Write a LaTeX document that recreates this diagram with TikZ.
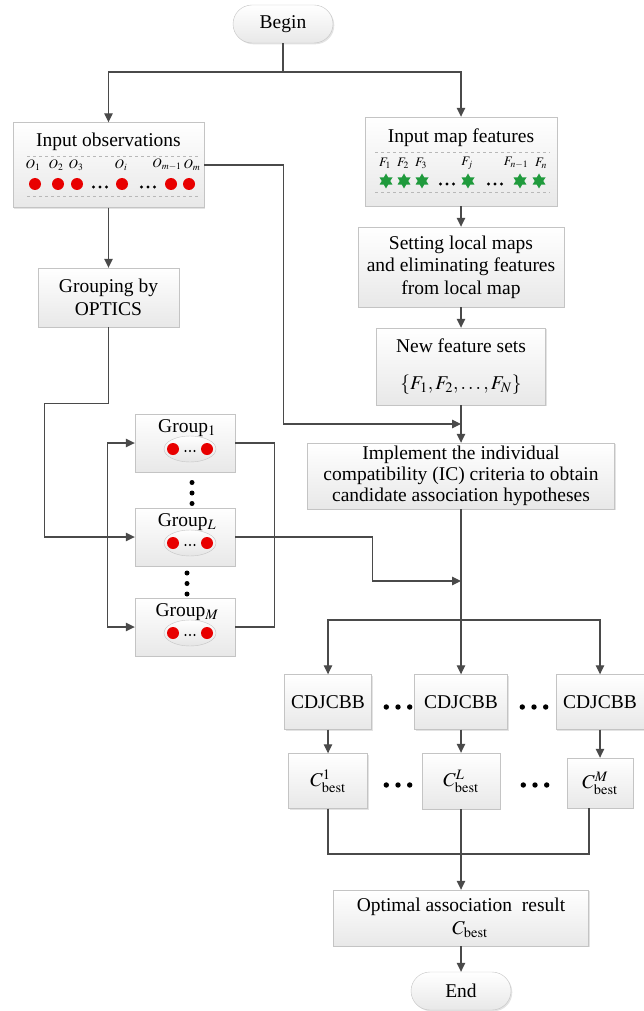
\documentclass[tikz,border=0pt]{standalone}
\usepackage{mathptmx}
\usepackage{fontspec}
\setmainfont{Liberation Serif}
\usetikzlibrary{arrows.meta,shapes.geometric,shadows,calc}
\definecolor{linegray}{HTML}{4A4A4A}
\definecolor{boxgray}{HTML}{C4C4C4}
\definecolor{obsred}{HTML}{E80000}
\definecolor{featgreen}{HTML}{1F9A3C}
\tikzset{box/.style={draw=boxgray,top color=white,bottom color=black!9,align=center,inner sep=0pt,
  drop shadow={shadow xshift=1.3pt,shadow yshift=-1.3pt,opacity=.22}},
 pill/.style={box,rounded corners=19pt,minimum width=100,minimum height=38},
 oval/.style={ellipse,draw=boxgray,top color=white,bottom color=black!10,minimum width=52,minimum height=26,inner sep=0pt},
 link/.style={draw=linegray,line width=1.1pt},
 linkarrow/.style={link,-{Triangle[length=9pt,width=8.5pt]}},
 featstar/.style={star,star points=6,star point ratio=1.75,fill=featgreen,minimum size=15,inner sep=0pt},
 sep/.style={draw=black!28,dashed,line width=.8pt},
 lbl/.style={font=\fontsize{13}{13}\selectfont,inner sep=0pt}}
\newcommand{\dotrow}[4]{% centre x, centre y, gap, radius
 \foreach \k in {-1,0,1}{\fill[black] (#1+\k*#3,#2) circle (#4);}}
\newcommand{\dotcol}[4]{% centre x, centre y, gap, radius
 \foreach \k in {-1,0,1}{\fill[black] (#1,#2+\k*#3) circle (#4);}}
\newcommand{\groupnode}[3]{% name, centre y, index
 \node[box,minimum width=100,minimum height=58] (#1) at (185,#2) {};
 \node (#1lbl) at (187,#2-15) {Group$_{#3}$};
 \node[oval] (#1oval) at (190,#2+6) {};
 \fill[obsred] (173,#2+6) circle (6);
 \fill[obsred] (207,#2+6) circle (6);
 \dotrow{190}{#2+8}{4.5}{1.2}
}

\begin{document}
\begin{tikzpicture}[x=1pt,y=-1pt,font=\fontsize{19.5}{22.4}\selectfont]
 \useasboundingbox (0,0) rectangle (643,1011);
 \node[pill] (begin) at (283,24) {Begin};
 \coordinate (split) at (283,72);

 % observations
 \node[box,minimum width=191,minimum height=85] (obs) at (108.5,165) {};
 \node (obstitle) at (108.5,142) {Input observations};
 \draw[sep] (27,156) -- (200,156);
 \draw[sep] (27,196) -- (200,196);
 \foreach \x/\t [count=\i] in {33/1,56/2,76/3,121/i,167/{m-1},192/m}{
  \node[lbl] (olbl\i) at (\x,165) {$O_{\t}$};
 }
 \foreach \x in {35,58,77,122,171,189}{\fill[obsred] (\x,184) circle (6);}
 \dotrow{100}{187}{6.5}{1.6}
 \dotrow{148}{187}{6.5}{1.6}

 % map features
 \node[box,minimum width=192,minimum height=89] (feat) at (461,161.5) {};
 \node (feattitle) at (461,138) {Input map features};
 \draw[sep] (375,152) -- (550,152);
 \draw[sep] (375,192) -- (550,192);
 \foreach \x/\t [count=\i] in {385/1,403/2,421/3,467/j,516/{n-1},541/n}{
  \node[lbl] (flbl\i) at (\x,163) {$F_{\t}$};
 }
 \foreach \x [count=\i] in {386,404,422,468,520,539}{\node[featstar] (star\i) at (\x,181) {};}
 \dotrow{447}{184}{6.5}{1.6}
 \dotrow{495}{184}{6.5}{1.6}

 \node[box,minimum width=141,minimum height=59] (grouping) at (108.5,297.5) {Grouping by\\OPTICS};
 \node[box,minimum width=206,minimum height=80] (setting) at (461,267) {Setting local maps\\and eliminating features\\from local map};
 \node[box,minimum width=169,minimum height=77] (newset) at (461,366.5) {New feature sets\\[14pt]$\{F_1,F_2,\ldots,F_N\}$};
 \node[box,minimum width=307,minimum height=66,font=\fontsize{19.5}{21}\selectfont] (impl) at (461,476)
  {Implement the individual\\compatibility (IC) criteria to obtain\\candidate association hypotheses};

 % groups
 \groupnode{grp1}{443}{1}
 \groupnode{grpL}{537}{L}
 \groupnode{grpM}{627}{M}
 \dotcol{192}{493}{10.5}{2.5}
 \dotcol{187}{583.5}{10.5}{2.5}

 % association branches
 \node[box,minimum width=87,minimum height=55] (cdj1) at (328,702) {CDJCBB};
 \node[box,minimum width=93,minimum height=55] (cdj2) at (461,702) {CDJCBB};
 \node[box,minimum width=88,minimum height=55] (cdj3) at (600,702) {CDJCBB};
 \node[box,minimum width=79,minimum height=55] (cb1) at (328,781) {$C^{1}_{\mathrm{best}}$};
 \node[box,minimum width=78,minimum height=56] (cb2) at (461,781) {$C^{L}_{\mathrm{best}}$};
 \node[box,minimum width=66,minimum height=50] (cb3) at (600,783) {$C^{M}_{\mathrm{best}}$};
 \dotrow{398}{707}{11.7}{2.7}
 \dotrow{534}{707}{11.7}{2.7}
 \dotrow{398}{785}{11.7}{2.7}
 \dotrow{535}{785}{11.7}{2.7}

 \node[box,minimum width=255,minimum height=56] (opt) at (461,918) {Optimal association\ \ result\\\hspace*{18pt}$C_{\mathrm{best}}$};
 \node[pill] (end) at (461,991) {End};

 \coordinate (joinA) at (461,424);
 \coordinate (joinB) at (461,581);
 \coordinate (dist) at (461,620);
 \coordinate (merge) at (461,854);
 \coordinate (fork) at ($(grpL.west)+(-27,0)$);

 % connectors
 \draw[link] (begin) -- (split);
 \draw[linkarrow] (split) -| (obs.north);
 \draw[linkarrow] (split) -| (feat.north);
 \draw[linkarrow] (obs) -- (grouping);
 \draw[linkarrow] (obs.east) -- ++(79,0) |- (joinA);
 \draw[linkarrow] (feat) -- (setting);
 \draw[linkarrow] (setting) -- (newset);
 \draw[linkarrow] (newset) -- (impl);
 \draw[linkarrow] (grouping.south) -- ++(0,76) -- ++(-64,0) |- (grpL.west);
 \draw[linkarrow] (fork) |- (grp1.west);
 \draw[linkarrow] (fork) |- (grpM.west);
 \draw[link] (grp1.east) -- ++(39,0) |- (grpM.east);
 \draw[linkarrow] (grpL.east) -- ++(137,0) |- (joinB);
 \draw[link] (impl) -- (dist);
 \draw[linkarrow] (dist) -| (cdj1.north);
 \draw[linkarrow] (dist) -- (cdj2);
 \draw[linkarrow] (dist) -| (cdj3.north);
 \draw[linkarrow] (cdj1) -- (cb1);
 \draw[linkarrow] (cdj2) -- (cb2);
 \draw[linkarrow] (cdj3) -- (cb3);
 \draw[link] (cb1) |- (merge);
 \draw[link] ($(cb3.south)+(-11,0)$) |- (merge);
 \draw[linkarrow] (cb2) -- (opt);
 \draw[linkarrow] (opt) -- (end);
\end{tikzpicture}
\end{document}
